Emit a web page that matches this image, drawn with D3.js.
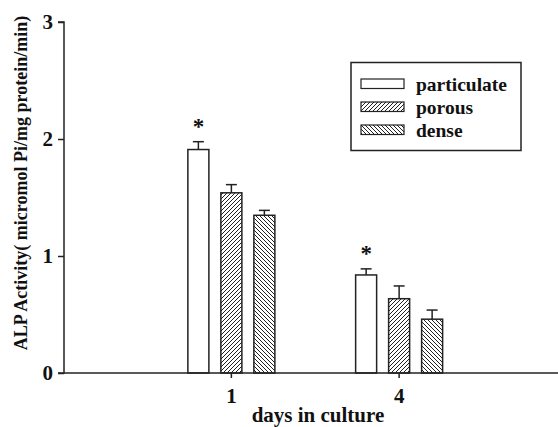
<!DOCTYPE html>
<html><head><meta charset="utf-8">
<script src="https://cdn.jsdelivr.net/npm/d3@7"></script>
<style>body{margin:0;background:#fff}svg{display:block}text{font-family:"Liberation Serif","Times New Roman",serif;font-weight:bold;fill:#111}</style>
</head><body>
<script>
const days = ["1", "4"];
const series = ["particulate", "porous", "dense"];
const particulate = [1.91, 0.838];
const porous = [1.54, 0.635];
const dense = [1.348, 0.46];
const particulateErr = [0.067, 0.052];
const porousErr = [0.07, 0.109];
const denseErr = [0.042, 0.078];
const yTicks = [0, 1, 2, 3];

const W = 558, H = 427;
const svg = d3.select("body").append("svg").attr("width", W).attr("height", H);
const defs = svg.append("defs");
function hatch(id, dir) {
  const p = defs.append("pattern").attr("id", id).attr("patternUnits", "userSpaceOnUse")
    .attr("width", 4).attr("height", 4);
  p.append("rect").attr("width", 4).attr("height", 4).attr("fill", "#fff");
  if (dir > 0) {
    p.append("path").attr("d", "M-1,1 l2,-2 M0,4 l4,-4 M3,5 l2,-2").attr("stroke", "#222").attr("stroke-width", 1);
  } else {
    p.append("path").attr("d", "M-1,3 l2,2 M0,0 l4,4 M3,-1 l2,2").attr("stroke", "#222").attr("stroke-width", 1);
  }
}
hatch("fwd", 1); hatch("bwd", -1);
const fills = { particulate: "#fff", porous: "url(#fwd)", dense: "url(#bwd)" };

const y = d3.scaleLinear().domain([0, 3]).range([373, 22]);
const x = d3.scaleBand().domain(days).range([147.5, 483]).paddingInner(0).paddingOuter(0);
const xs = d3.scaleBand().domain(series).range([-49.5, 49.5]).paddingInner(12 / 33).paddingOuter(6 / 33);

const vals = { particulate, porous, dense };
const errs = { particulate: particulateErr, porous: porousErr, dense: denseErr };

const g = svg.append("g");
series.forEach((s) => {
  days.forEach((d, di) => {
    const cx = x(d) + x.bandwidth() / 2 + xs(s);
    const v = vals[s][di], e = errs[s][di];
    const mid = cx + xs.bandwidth() / 2;
    g.append("line").attr("x1", mid).attr("x2", mid).attr("y1", y(v)).attr("y2", y(v + e))
      .attr("stroke", "#222").attr("stroke-width", 1.5);
    g.append("line").attr("x1", mid - 5.5).attr("x2", mid + 5.5).attr("y1", y(v + e)).attr("y2", y(v + e))
      .attr("stroke", "#222").attr("stroke-width", 1.5);
    g.append("rect").attr("x", cx).attr("y", y(v)).attr("width", xs.bandwidth())
      .attr("height", y(0) - y(v)).attr("fill", fills[s]).attr("stroke", "#222").attr("stroke-width", 1.5);
    if (s === "particulate") {
      g.append("text").attr("x", mid).attr("y", y(v + e) - 8).attr("text-anchor", "middle")
        .style("font-size", "23px").text("*");
    }
  });
});

const ya = svg.append("g").attr("transform", "translate(64,0)")
  .call(d3.axisLeft(y).tickValues(yTicks).tickFormat(d3.format("d")).tickSize(6).tickPadding(5));
ya.select(".domain").attr("stroke", "#222").attr("stroke-width", 1.5).attr("d", "M-6,22H0V373H-6");
ya.selectAll(".tick line").attr("stroke", "#222").attr("stroke-width", 1.5);
ya.selectAll(".tick text").style("font-size", "21px").attr("font-family", null);

const xa = svg.append("g").attr("transform", "translate(0,373)")
  .call(d3.axisBottom(x).tickSize(5).tickPadding(10));
xa.select(".domain").attr("stroke", "#222").attr("stroke-width", 1.5).attr("d", "M64,0H558");
xa.selectAll(".tick line").attr("stroke", "#222").attr("stroke-width", 1.5);
xa.selectAll(".tick text").style("font-size", "21px").attr("font-family", null);

svg.append("text").attr("x", 318).attr("y", 421.5).attr("text-anchor", "middle")
  .style("font-size", "21px").text("days in culture");
svg.append("text").attr("transform", "translate(27,183) rotate(-90)").attr("text-anchor", "middle")
  .style("font-size", "18px").text("ALP Activity( micromol Pi/mg protein/min)");

const lg = svg.append("g");
lg.append("rect").attr("x", 351).attr("y", 62.5).attr("width", 170).attr("height", 88)
  .attr("fill", "#fff").attr("stroke", "#222").attr("stroke-width", 1.5);
series.forEach((s, i) => {
  const yy = 79 + i * 23;
  lg.append("rect").attr("x", 361).attr("y", yy).attr("width", 43).attr("height", 9.5)
    .attr("fill", fills[s]).attr("stroke", "#222").attr("stroke-width", 1.2);
  lg.append("text").attr("x", 416).attr("y", yy + 11.5).style("font-size", "19.5px").text(s);
});
</script>
</body></html>
